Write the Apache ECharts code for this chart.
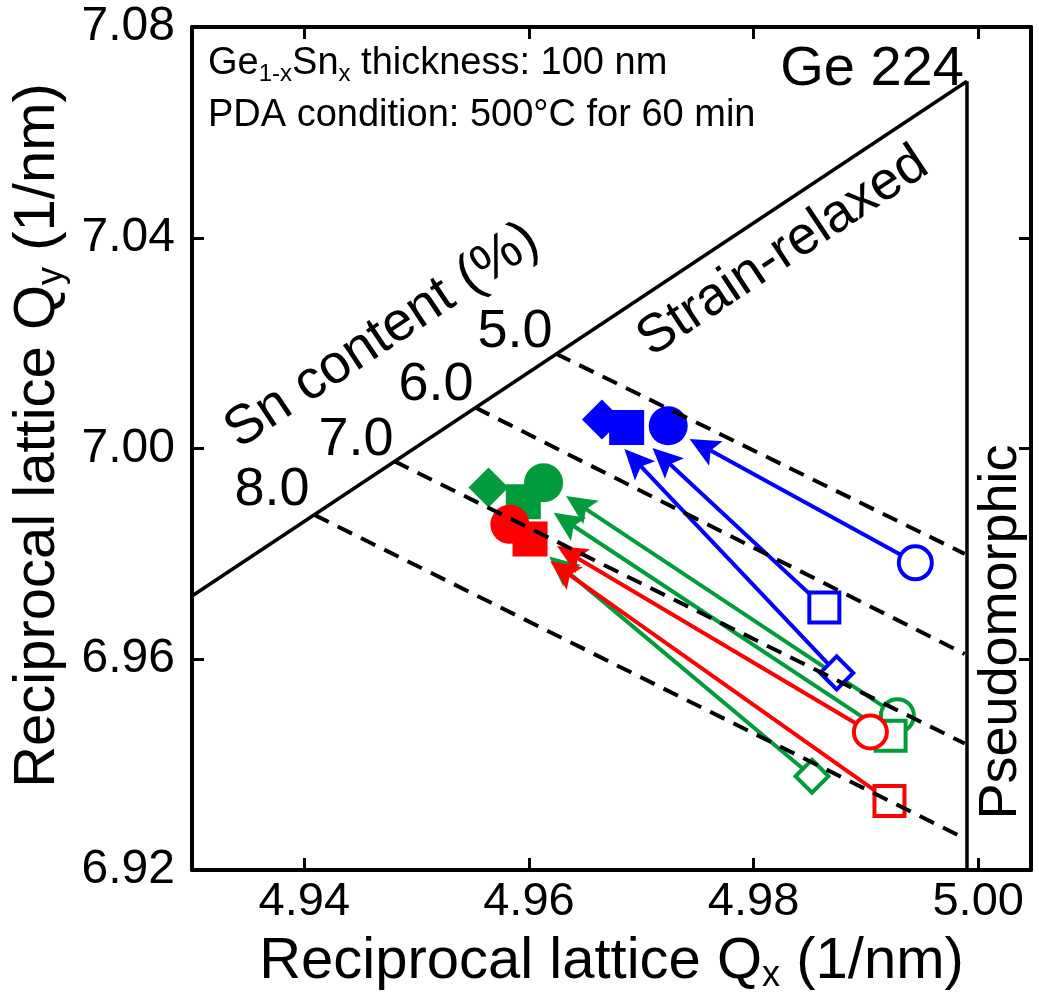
<!DOCTYPE html>
<html><head><meta charset="utf-8">
<script src="https://cdn.jsdelivr.net/npm/echarts@6/dist/echarts.min.js"></script>
<style>html,body{margin:0;padding:0;background:#fff}#c{width:1039px;height:999px}</style>
</head><body><div id="c"></div>
<script>
// ---------- data ----------
const xTicks = [4.94, 4.96, 4.98, 5.00];
const yTicks = [6.92, 6.96, 7.00, 7.04, 7.08];
const xRange = [4.93, 5.0047];
const yRange = [6.92, 7.08];

const relaxedQx = [4.93, 4.999];
const relaxedQy = [6.972, 7.0697];
const pseudoQx = [4.999, 4.999];
const pseudoQy = [7.0697, 6.92];

const snLabels = ['5.0', '6.0', '7.0', '8.0'];
const snStartQx = [4.9624, 4.9552, 4.9480, 4.9409];
const snStartQy = [7.0180, 7.0078, 6.9976, 6.9874];
const snEndQx = [4.9988, 4.9988, 4.9988, 4.9988];
const snEndQy = [6.980, 6.961, 6.944, 6.926];

const blueOpenShape = ['circle', 'rect', 'diamond'];
const blueOpenQx = [4.9944, 4.9863, 4.9874];
const blueOpenQy = [6.9783, 6.9698, 6.9574];
const blueTipQx = [4.9743, 4.9710, 4.9685];
const blueTipQy = [7.0018, 7.0001, 6.9999];
const blueFilledShape = ['diamond', 'rect', 'circle'];
const blueFilledQx = [4.9665, 4.9687, 4.9724];
const blueFilledQy = [7.0055, 7.0040, 7.0043];

const greenOpenShape = ['diamond', 'circle', 'rect'];
const greenOpenQx = [4.9852, 4.9928, 4.9922];
const greenOpenQy = [6.9378, 6.9493, 6.9455];
const greenTipQx = [4.9618, 4.9633, 4.9622];
const greenTipQy = [6.9795, 6.9910, 6.9878];
const greenFilledShape = ['diamond', 'circle', 'rect'];
const greenFilledQx = [4.9564, 4.9613, 4.9595];
const greenFilledQy = [6.9926, 6.9935, 6.9899];

const redOpenShape = ['circle', 'rect'];
const redOpenQx = [4.9904, 4.9921];
const redOpenQy = [6.9462, 6.9331];
const redTipQx = [4.9625, 4.9619];
const redTipQy = [6.9815, 6.9786];
const redFilledShape = ['circle', 'rect'];
const redFilledQx = [4.9583, 4.9601];
const redFilledQy = [6.9856, 6.9828];

// ---------- styles ----------
const FONT = '"Liberation Sans", Arial, Helvetica, sans-serif';
const BLUE = '#0000ff', GREEN = '#009b3a', RED = '#ff0000';

function symSize(shape, filled) {
  if (filled) return shape === 'circle' ? 39 : shape === 'rect' ? 35 : 40;
  return shape === 'circle' ? 33 : shape === 'rect' ? 30 : 33;
}
function markerSeries(shapes, qx, qy, color, filled) {
  return {
    type: 'scatter', silent: true,
    data: shapes.map((s, i) => ({ value: [qx[i], qy[i]], symbol: s, symbolSize: symSize(s, filled) })),
    itemStyle: { color: filled ? color : '#ffffff', borderColor: color, borderWidth: filled ? 0 : 4, opacity: 1 },
    emphasis: { disabled: true }
  };
}
function arrowSeries(qx0, qy0, qx1, qy1, color) {
  return {
    type: 'custom', silent: true,
    data: qx0.map((v, i) => [qx0[i], qy0[i], qx1[i], qy1[i]]),
    renderItem: function (params, api) {
      const a = api.coord([api.value(0), api.value(1)]);
      const b = api.coord([api.value(2), api.value(3)]);
      const dx = b[0] - a[0], dy = b[1] - a[1];
      const L = Math.hypot(dx, dy);
      const ux = dx / L, uy = dy / L, px = -uy, py = ux;
      const len = 30, hw = 14, notch = 24;
      const base = [b[0] - ux * len, b[1] - uy * len];
      const nb = [b[0] - ux * notch, b[1] - uy * notch];
      return {
        type: 'group', children: [
          { type: 'line', shape: { x1: a[0], y1: a[1], x2: nb[0], y2: nb[1] }, style: { stroke: color, lineWidth: 4 } },
          { type: 'polygon', shape: { points: [b, [base[0] + px * hw, base[1] + py * hw], nb, [base[0] - px * hw, base[1] - py * hw]] }, style: { fill: color } }
        ]
      };
    }
  };
}
function lineSeries(qx, qy, dashed) {
  return {
    type: 'line', silent: true, showSymbol: false, symbol: 'none',
    data: qx.map((v, i) => [qx[i], qy[i]]),
    lineStyle: { color: '#000', width: dashed ? 4 : 3.5, type: dashed ? [16, 10] : 'solid' },
    emphasis: { disabled: true }
  };
}

const series = [];
series.push(lineSeries(relaxedQx, relaxedQy, false));
series.push(lineSeries(pseudoQx, pseudoQy, false));
snLabels.forEach((lab, i) => series.push(lineSeries([snStartQx[i], snEndQx[i]], [snStartQy[i], snEndQy[i]], true)));
series.push(arrowSeries(blueOpenQx, blueOpenQy, blueTipQx, blueTipQy, BLUE));
series.push(arrowSeries(greenOpenQx, greenOpenQy, greenTipQx, greenTipQy, GREEN));
series.push(arrowSeries(redOpenQx, redOpenQy, redTipQx, redTipQy, RED));
series.push(markerSeries(blueFilledShape, blueFilledQx, blueFilledQy, BLUE, true));
series.push(markerSeries(greenFilledShape, greenFilledQx, greenFilledQy, GREEN, true));
series.push(markerSeries(redFilledShape, redFilledQx, redFilledQy, RED, true));
series.push(markerSeries(blueOpenShape, blueOpenQx, blueOpenQy, BLUE, false));
series.push(markerSeries(greenOpenShape, greenOpenQx, greenOpenQy, GREEN, false));
series.push(markerSeries(redOpenShape, redOpenQx, redOpenQy, RED, false));

const axisLine = { show: true, onZero: false, lineStyle: { color: '#000', width: 4 } };
const tickIn = (vals) => ({ show: true, inside: true, length: 12, customValues: vals, lineStyle: { color: '#000', width: 3 } });

const ANG = 33.6 * Math.PI / 180;
function txt(x, y, text, size, rot, align) {
  return {
    type: 'text', x: x, y: y, rotation: rot || 0, silent: true, z: 100,
    style: { text: text, fontSize: size, fontFamily: FONT, fill: '#000', align: align || 'center', verticalAlign: 'middle' }
  };
}
const snPos = [[515, 332], [436, 385], [356, 440], [272, 490]];

const graphic = [
  {
    type: 'text', left: 208, top: 45, silent: true, z: 100,
    style: {
      text: '{a|Ge}{s|1-x}{a|Sn}{s|x}{a| thickness: 100 nm}',
      fontFamily: FONT, fill: '#000',
      rich: {
        a: { fontSize: 38, lineHeight: 44, fontFamily: FONT, fill: '#000' },
        s: { fontSize: 24, lineHeight: 16, verticalAlign: 'bottom', fontFamily: FONT, fill: '#000' }
      }
    }
  },
  txt(208, 116, 'PDA condition: 500\u00b0C for 60 min', 38, 0, 'left'),
  txt(872, 70, 'Ge 224', 56, 0),
  txt(783, 252, 'Strain-relaxed', 54, ANG),
  txt(382, 336, 'Sn content (%)', 55, ANG),
  txt(1001, 632, 'Pseudomorphic', 54, Math.PI / 2)
];
snLabels.forEach((lab, i) => graphic.push(txt(snPos[i][0], snPos[i][1], lab, 54, 0)));

const nameRich = {
  t: { fontSize: 58, lineHeight: 64, fontFamily: FONT, color: '#000' },
  s: { fontSize: 36, lineHeight: 18, verticalAlign: 'bottom', fontFamily: FONT, color: '#000' }
};

const chart = echarts.init(document.getElementById('c'), null, { renderer: 'canvas' });
chart.setOption({
  animation: false,
  backgroundColor: '#ffffff',
  grid: { left: 192, right: 8, top: 27, bottom: 128, containLabel: false },
  xAxis: [
    {
      type: 'value', min: xRange[0], max: xRange[1], position: 'bottom',
      axisLine: axisLine, axisTick: tickIn(xTicks), splitLine: { show: false },
      axisLabel: { show: true, customValues: xTicks, margin: 9, fontSize: 47, color: '#000', fontFamily: FONT, formatter: v => v.toFixed(2) },
      name: '{t|Reciprocal lattice Q}{s|x}{t| (1/nm)}', nameLocation: 'middle', nameGap: 60,
      nameTextStyle: { color: '#000', fontFamily: FONT, fontSize: 58, rich: nameRich }
    },
    {
      type: 'value', min: xRange[0], max: xRange[1], position: 'top',
      axisLine: axisLine, axisTick: tickIn(xTicks), splitLine: { show: false }, axisLabel: { show: false }
    }
  ],
  yAxis: [
    {
      type: 'value', min: yRange[0], max: yRange[1], position: 'left',
      axisLine: axisLine, axisTick: tickIn(yTicks), splitLine: { show: false },
      axisLabel: { show: true, customValues: yTicks, margin: 17, fontSize: 48, color: '#000', fontFamily: FONT, formatter: v => v.toFixed(2) },
      name: '{t|Reciprocal lattice Q}{s|y}{t| (1/nm)}', nameLocation: 'middle', nameGap: 122, nameRotate: 90,
      nameTextStyle: { color: '#000', fontFamily: FONT, fontSize: 57, padding: [0, 0, 0, 26], rich: nameRich }
    },
    {
      type: 'value', min: yRange[0], max: yRange[1], position: 'right',
      axisLine: axisLine, axisTick: tickIn(yTicks), splitLine: { show: false }, axisLabel: { show: false }
    }
  ],
  series: series,
  graphic: graphic
});
</script>
</body></html>
